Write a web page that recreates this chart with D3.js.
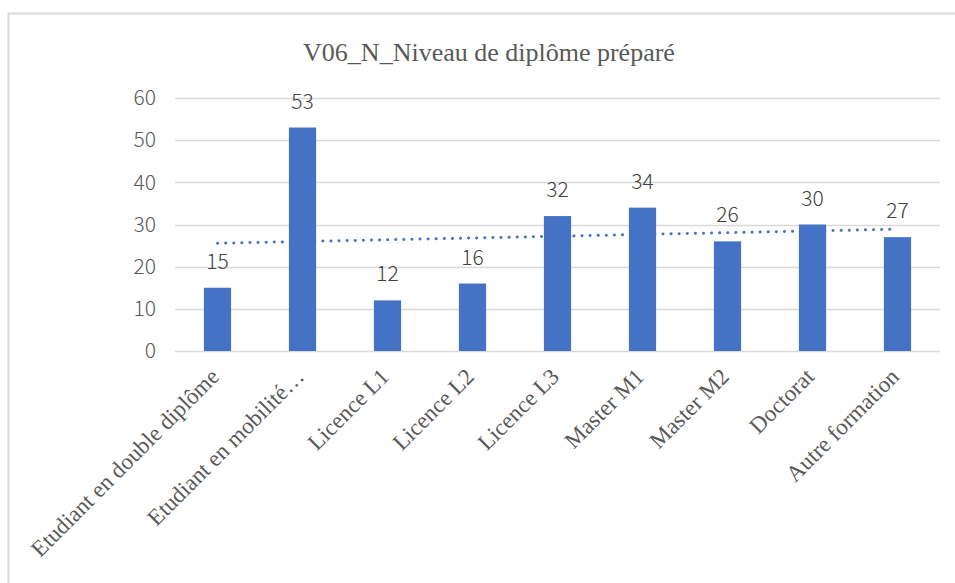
<!DOCTYPE html>
<html>
<head>
<meta charset="utf-8">
<script src="https://cdn.jsdelivr.net/npm/d3@7"></script>
<style>
  html, body { margin: 0; padding: 0; background: #fff; }
  svg { display: block; }
</style>
</head>
<body>
<svg id="chart" width="955" height="583"></svg>
<script>
const title = "V06_N_Niveau de diplôme préparé";
const categories = ["Etudiant en double diplôme", "Etudiant en mobilité…", "Licence L1", "Licence L2", "Licence L3", "Master M1", "Master M2", "Doctorat", "Autre formation"];
const values = [15, 53, 12, 16, 32, 34, 26, 30, 27];
const yTicks = [0, 10, 20, 30, 40, 50, 60];

const svg = d3.select("#chart");
const W = 955, H = 583;
const margin = { left: 175, right: 15, top: 98, bottom: 232 };
const plotW = W - margin.left - margin.right;
const plotH = H - margin.top - margin.bottom;
const sansFont = "'Noto Sans CJK JP', 'Noto Sans', sans-serif";
const serifFont = "'Liberation Serif', 'Times New Roman', serif";

// outer border
svg.append("rect")
  .attr("x", 8.5).attr("y", 13.5)
  .attr("width", 960).attr("height", 600)
  .attr("fill", "none").attr("stroke", "#d9d9d9").attr("stroke-width", 2);

const x = d3.scaleBand().domain(categories).range([margin.left, margin.left + plotW]).paddingInner(0.68).paddingOuter(0.34);
const y = d3.scaleLinear().domain([0, 60]).range([margin.top + plotH, margin.top]);

// title
svg.append("text")
  .attr("x", 489).attr("y", 61)
  .attr("text-anchor", "middle")
  .attr("font-family", serifFont)
  .attr("font-size", 26)
  .attr("fill", "#595959")
  .text(title);

// gridlines
svg.append("g").selectAll("line").data(yTicks).join("line")
  .attr("x1", margin.left).attr("x2", margin.left + plotW)
  .attr("y1", d => Math.round(y(d)) + 0.5).attr("y2", d => Math.round(y(d)) + 0.5)
  .attr("stroke", "#d9d9d9").attr("stroke-width", 1.5);

// y axis labels
const yAxis = d3.axisLeft(y).tickValues(yTicks).tickSize(0).tickPadding(0);
const yg = svg.append("g").attr("transform", `translate(${margin.left - 19},0)`).call(yAxis);
yg.select(".domain").remove();
yg.selectAll("text")
  .attr("font-family", sansFont)
  .attr("font-weight", 300)
  .attr("font-size", 21)
  .attr("fill", "#595959");

// bars
svg.append("g").selectAll("rect").data(values).join("rect")
  .attr("x", (d, i) => x(categories[i]))
  .attr("width", x.bandwidth())
  .attr("y", d => y(d))
  .attr("height", d => y(0) - y(d))
  .attr("fill", "#4472C4");

// data labels
svg.append("g").selectAll("text").data(values).join("text")
  .attr("x", (d, i) => x(categories[i]) + x.bandwidth() / 2)
  .attr("y", d => y(d) - 19)
  .attr("text-anchor", "middle")
  .attr("font-family", sansFont)
  .attr("font-weight", 300)
  .attr("font-size", 21)
  .attr("fill", "#404040")
  .text(d => d);

// linear trendline
const n = values.length;
const xs = values.map((d, i) => i + 1);
const mx = d3.mean(xs), my = d3.mean(values);
const slope = d3.sum(xs.map((xi, i) => (xi - mx) * (values[i] - my))) / d3.sum(xs.map(xi => (xi - mx) ** 2));
const intercept = my - slope * mx;
const trend = [1, n].map(xi => ({ cx: x(categories[xi - 1]) + x.bandwidth() / 2, v: intercept + slope * xi }));
svg.append("path")
  .attr("d", d3.line().x(d => d.cx).y(d => y(d.v))(trend))
  .attr("fill", "none")
  .attr("stroke", "#4472C4")
  .attr("stroke-width", 3)
  .attr("stroke-linecap", "round")
  .attr("stroke-dasharray", "0.1 8");

// x category labels
svg.append("g").selectAll("text").data(categories).join("text")
  .attr("transform", d => `translate(${x(d) + x.bandwidth() / 2 + 3},${y(0) + 27}) rotate(-45)`)
  .attr("text-anchor", "end")
  .attr("font-family", serifFont)
  .attr("font-size", 23)
  .attr("fill", "#595959")
  .text(d => d);
</script>
</body>
</html>
